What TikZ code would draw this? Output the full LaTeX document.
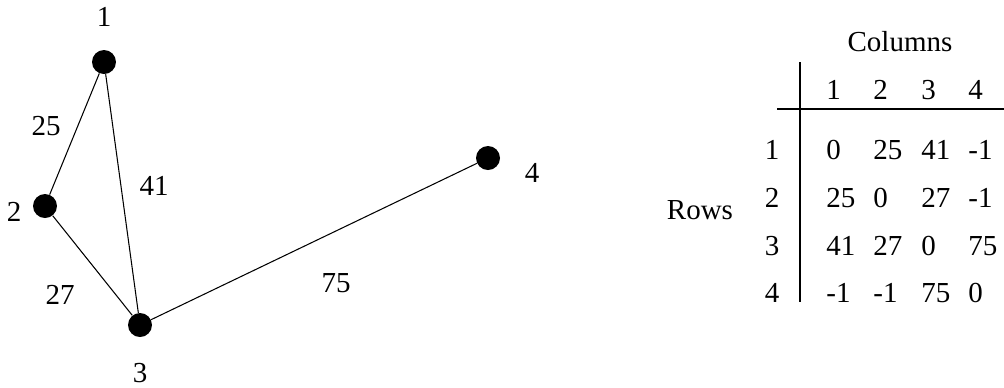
\documentclass[tikz,border=0pt]{standalone}
\usepackage{fontspec}
\setmainfont{Liberation Serif}
\usetikzlibrary{positioning}
\tikzset{
  vertex/.style={
    circle, fill=black, draw=none,
    minimum size=0.48cm, inner sep=0pt
  },
  txt/.style={
    font=\fontsize{16.5}{19}\selectfont,
    inner sep=0pt
  },
  cell/.style={
    txt, anchor=west
  },
  edge/.style={
    line width=0.6pt, draw=black
  },
  tablerule/.style={
    line width=0.6pt, draw=black
  }
}

\begin{document}
\begin{tikzpicture}[x=0.02cm, y=-0.02cm]
  \useasboundingbox (0,0) rectangle (1004,387);

  % graph
  \node[vertex] (v1) at (104,62) {};
  \node[vertex] (v2) at (45,206) {};
  \node[vertex] (v3) at (140,325) {};
  \node[vertex] (v4) at (488,158) {};

  \node[txt] (l1) at (104,17) {1};
  \node[txt] (l2) at (14,212) {2};
  \node[txt] (l3) at (140,373) {3};
  \node[txt] (l4) at (532,173) {4};

  \draw[edge] (v1) -- (v2);
  \draw[edge] (v1) -- (v3);
  \draw[edge] (v2) -- (v3);
  \draw[edge] (v3) -- (v4);

  \node[txt] (w12) at (46,126) {25};
  \node[txt] (w13) at (154,186) {41};
  \node[txt] (w23) at (60,295) {27};
  \node[txt] (w34) at (336,283) {75};

  % adjacency table
  \node[txt] (cols) at (900,42) {Columns};
  \node[txt] (rows) at (700,210) {Rows};

  \foreach \c/\x in {1/826,2/873,3/921,4/968}
    \node[cell] (h-\c) at (\x,90) {\c};

  \foreach \r/\y/\a/\b/\cc/\d in {1/150/0/25/41/-1, 2/198/25/0/27/-1,
                                  3/246/41/27/0/75, 4/293/-1/-1/75/0}{
    \node[txt] (r-\r) at (772,\y) {\r};
    \node[cell] (m-\r-1) at (826,\y) {\a};
    \node[cell] (m-\r-2) at (873,\y) {\b};
    \node[cell] (m-\r-3) at (921,\y) {\cc};
    \node[cell] (m-\r-4) at (968,\y) {\d};
  }

  \draw[tablerule] (800,62) -- (800,302);
  \draw[tablerule] (777,109) -- (1004,109);
\end{tikzpicture}
\end{document}
